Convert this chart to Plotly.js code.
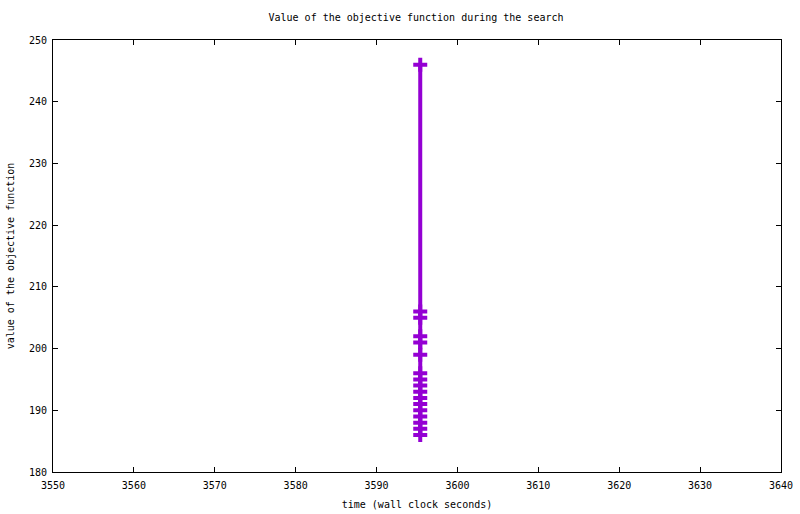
<!DOCTYPE html>
<html>
<head>
<meta charset="utf-8">
<script src="https://cdn.plot.ly/plotly-3.0.1.min.js"></script>
<style>html,body{margin:0;padding:0;background:#fff;}#chart{width:800px;height:514px;}</style>
</head>
<body>
<div id="chart"></div>
<script>
const timeSeconds = [3595.4, 3595.4, 3595.4, 3595.4, 3595.4, 3595.4, 3595.4, 3595.4, 3595.4, 3595.4, 3595.4, 3595.4, 3595.4, 3595.4, 3595.4, 3595.4, 3595.4];
const objectiveValues = [246, 206, 205, 202, 201, 199, 196, 195, 194, 193, 192, 191, 190, 189, 188, 187, 186];
const xTickValues = [3550, 3560, 3570, 3580, 3590, 3600, 3610, 3620, 3630, 3640];
const yTickValues = [180, 190, 200, 210, 220, 230, 240, 250];

const font = {family: 'DejaVu Sans Mono, monospace', size: 10, color: '#000'};

const trace = {
  x: timeSeconds,
  y: objectiveValues,
  type: 'scatter',
  mode: 'lines+markers',
  line: {color: '#9400D3', width: 4},
  marker: {symbol: 'cross-thin', size: 10, color: '#9400D3', line: {color: '#9400D3', width: 4}},
  hoverinfo: 'skip'
};

const axisCommon = {
  showgrid: false,
  zeroline: false,
  showline: true,
  linecolor: '#000',
  linewidth: 1,
  mirror: 'ticks',
  ticks: 'inside',
  ticklen: 5,
  tickcolor: '#000',
  tickfont: font
};

const layout = {
  width: 800,
  height: 514,
  margin: {l: 53, r: 19, t: 40, b: 42},
  paper_bgcolor: '#fff',
  plot_bgcolor: '#fff',
  showlegend: false,
  font: font,
  title: {text: 'Value of the objective function during the search', font: font, x: 0.52, xanchor: 'center', y: 0.965, yanchor: 'middle'},
  xaxis: Object.assign({}, axisCommon, {
    range: [3550, 3640],
    tickvals: xTickValues,
    ticktext: xTickValues.map(String),
    ticklabelstandoff: 4,
    title: {text: 'time (wall clock seconds)', font: font, standoff: 10}
  }),
  yaxis: Object.assign({}, axisCommon, {
    range: [180, 250],
    tickvals: yTickValues,
    ticktext: yTickValues.map(String),
    ticklabelstandoff: 3,
    title: {text: 'value of the objective function', font: font, standoff: 12}
  })
};

Plotly.newPlot('chart', [trace], layout, {displayModeBar: false, staticPlot: true});
</script>
</body>
</html>
